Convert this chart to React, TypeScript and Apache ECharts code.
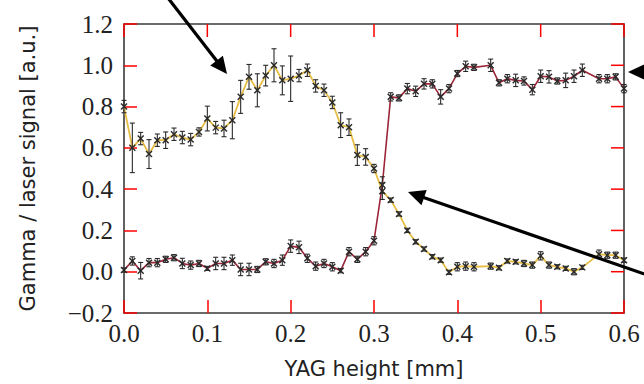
import React, { useEffect, useRef } from "react";
import * as echarts from "echarts";

// YAG height [mm]
const xValues = [
  0.0, 0.01, 0.02, 0.03, 0.04, 0.05, 0.06, 0.07, 0.08, 0.09,
  0.1, 0.11, 0.12, 0.13, 0.14, 0.15, 0.16, 0.17, 0.18, 0.19,
  0.2, 0.21, 0.22, 0.23, 0.24, 0.25, 0.26, 0.27, 0.28, 0.29,
  0.3, 0.31, 0.32, 0.33, 0.34, 0.35, 0.36, 0.37, 0.38, 0.39,
  0.4, 0.41, 0.42, 0.44, 0.45, 0.46, 0.47, 0.48, 0.49,
  0.5, 0.51, 0.52, 0.53, 0.54, 0.55, 0.57, 0.58, 0.59, 0.6,
];

// Gamma signal (yellow)
const gammaValues = [
  0.8, 0.6, 0.645, 0.57, 0.637, 0.637, 0.666, 0.65, 0.64, 0.677,
  0.742, 0.698, 0.694, 0.734, 0.847, 0.944, 0.879, 0.95, 1.0, 0.927,
  0.935, 0.95, 0.976, 0.9, 0.879, 0.82, 0.71, 0.7, 0.565, 0.556,
  0.5, 0.39, 0.347, 0.28, 0.2, 0.145, 0.11, 0.073, 0.056, -0.003,
  0.024, 0.027, 0.024, 0.027, 0.019, 0.052, 0.048, 0.04, 0.032,
  0.077, 0.032, 0.024, 0.016, 0.0, 0.021, 0.085, 0.08, 0.08, 0.056,
];
const gammaErrors = [
  0.03, 0.12, 0.03, 0.07, 0.03, 0.04, 0.03, 0.03, 0.03, 0.02,
  0.06, 0.03, 0.04, 0.09, 0.08, 0.06, 0.08, 0.05, 0.08, 0.07,
  0.11, 0.03, 0.03, 0.03, 0.03, 0.03, 0.06, 0.04, 0.05, 0.04,
  0.02, 0.04, 0.01, 0.01, 0.01, 0.01, 0.01, 0.01, 0.01, 0.01,
  0.02, 0.02, 0.02, 0.015, 0.01, 0.01, 0.01, 0.015, 0.015,
  0.02, 0.015, 0.01, 0.01, 0.015, 0.01, 0.02, 0.015, 0.015, 0.01,
];

// Laser signal (red)
const laserValues = [
  0.008, 0.052, 0.005, 0.044, 0.044, 0.06, 0.068, 0.04, 0.032, 0.04,
  0.016, 0.04, 0.04, 0.056, 0.011, 0.011, 0.011, 0.048, 0.04, 0.056,
  0.124, 0.118, 0.065, 0.027, 0.04, 0.024, 0.005, 0.097, 0.06, 0.097,
  0.15, 0.42, 0.847, 0.842, 0.887, 0.874, 0.91, 0.91, 0.847, 0.887,
  0.96, 0.995, 0.99, 1.0, 0.915, 0.935, 0.927, 0.924, 0.882,
  0.947, 0.944, 0.924, 0.927, 0.947, 0.976, 0.935, 0.935, 0.944, 0.887,
];
const laserErrors = [
  0.01, 0.02, 0.04, 0.02, 0.02, 0.015, 0.015, 0.025, 0.02, 0.015,
  0.01, 0.03, 0.03, 0.025, 0.03, 0.03, 0.015, 0.015, 0.02, 0.025,
  0.03, 0.03, 0.02, 0.02, 0.02, 0.02, 0.01, 0.02, 0.015, 0.02,
  0.02, 0.04, 0.02, 0.015, 0.025, 0.025, 0.025, 0.02, 0.035, 0.02,
  0.015, 0.025, 0.015, 0.03, 0.015, 0.02, 0.03, 0.02, 0.025,
  0.03, 0.03, 0.015, 0.035, 0.03, 0.03, 0.02, 0.02, 0.015, 0.02,
];

// Tick positions
const xTickValues = [0.0, 0.1, 0.2, 0.3, 0.4, 0.5, 0.6];
const yTickValues = [-0.2, 0.0, 0.2, 0.4, 0.6, 0.8, 1.0, 1.2];

const X_MIN = 0;
const X_MAX = 0.6;
const Y_MIN = -0.2;
const Y_MAX = 1.2;

const GAMMA_COLOR = "#E6BD45";
const LASER_COLOR = "#9C2639";
const MARK_COLOR = "#2a2a2a";
const FRAME_COLOR = "#3a3a3a";
const TICK_COLOR = "#ff0000";
const TICK_LEN = 13;

function arrow(x1: number, y1: number, x2: number, y2: number) {
  const dx = x2 - x1;
  const dy = y2 - y1;
  const len = Math.sqrt(dx * dx + dy * dy);
  const ux = dx / len;
  const uy = dy / len;
  const headLen = 17;
  const headW = 8;
  const bx = x2 - ux * headLen;
  const by = y2 - uy * headLen;
  return [
    {
      type: "line",
      shape: { x1, y1, x2: bx + ux * 2, y2: by + uy * 2 },
      style: { stroke: "#000", lineWidth: 3.2 },
      z: 100,
    },
    {
      type: "polygon",
      shape: {
        points: [
          [x2, y2],
          [bx - uy * headW, by + ux * headW],
          [bx + uy * headW, by - ux * headW],
        ],
      },
      style: { fill: "#000" },
      z: 100,
    },
  ];
}

function errorSeries(values: number[], errors: number[]) {
  return {
    type: "custom",
    xAxisIndex: 0,
    yAxisIndex: 0,
    z: 5,
    encode: { x: 0, y: 1 },
    data: xValues.map((x, i) => [x, values[i], errors[i]]),
    renderItem: (_params: any, api: any) => {
      const x = api.value(0);
      const y = api.value(1);
      const e = api.value(2);
      const c = api.coord([x, y]);
      const t = api.coord([x, y + e]);
      const b = api.coord([x, y - e]);
      const cap = 2.5;
      const m = 3;
      const st = { stroke: MARK_COLOR, lineWidth: 1.1 };
      return {
        type: "group",
        children: [
          { type: "line", shape: { x1: t[0], y1: t[1], x2: b[0], y2: b[1] }, style: st },
          { type: "line", shape: { x1: t[0] - cap, y1: t[1], x2: t[0] + cap, y2: t[1] }, style: st },
          { type: "line", shape: { x1: b[0] - cap, y1: b[1], x2: b[0] + cap, y2: b[1] }, style: st },
          { type: "line", shape: { x1: c[0] - m, y1: c[1] - m, x2: c[0] + m, y2: c[1] + m }, style: { stroke: MARK_COLOR, lineWidth: 1.4 } },
          { type: "line", shape: { x1: c[0] - m, y1: c[1] + m, x2: c[0] + m, y2: c[1] - m }, style: { stroke: MARK_COLOR, lineWidth: 1.4 } },
        ],
      };
    },
  };
}

// Inward ticks on the top and right sides, placed through the axes' scales
function mirrorTickSeries() {
  return {
    type: "custom",
    xAxisIndex: 0,
    yAxisIndex: 0,
    z: 10,
    clip: false,
    encode: { x: 0, y: 1 },
    data: [
      ...xTickValues.map((v) => [v, Y_MIN, 0]),
      ...yTickValues.map((v) => [X_MIN, v, 1]),
    ],
    renderItem: (_params: any, api: any) => {
      const st = { stroke: TICK_COLOR, lineWidth: 1.5 };
      if (api.value(2) === 0) {
        const t = api.coord([api.value(0), Y_MAX]);
        return { type: "line", shape: { x1: t[0], y1: t[1], x2: t[0], y2: t[1] + TICK_LEN }, style: st };
      }
      const r = api.coord([X_MAX, api.value(1)]);
      return { type: "line", shape: { x1: r[0], y1: r[1], x2: r[0] - TICK_LEN, y2: r[1] }, style: st };
    },
  };
}

const mkLine = () => ({ show: true, onZero: false, lineStyle: { color: FRAME_COLOR, width: 1.6 } });
const mkTick = () => ({ show: true, inside: true, length: TICK_LEN, lineStyle: { color: TICK_COLOR, width: 1.5 } });

export default function App() {
  const ref = useRef<HTMLDivElement>(null);

  useEffect(() => {
    if (!ref.current) return;
    const chart = echarts.init(ref.current, null, { renderer: "svg" });
    const fmt = (v: number) => v.toFixed(1).replace("-", "\u2212");
    const labelStyle = { fontFamily: "Liberation Serif", fontSize: 25, color: "#222" };

    chart.setOption({
      animation: false,
      grid: { left: 124, right: 20, top: 24, bottom: 71 },
      xAxis: [
        {
          type: "value",
          position: "bottom",
          min: X_MIN,
          max: X_MAX,
          interval: 0.1,
          axisLine: mkLine(),
          axisTick: mkTick(),
          splitLine: { show: false },
          axisLabel: { ...labelStyle, margin: 8, formatter: fmt },
          name: "YAG height [mm]",
          nameLocation: "middle",
          nameGap: 45,
          nameTextStyle: { fontFamily: "DejaVu Sans", fontSize: 21, color: "#222" },
        },
        {
          type: "value",
          position: "top",
          min: X_MIN,
          max: X_MAX,
          interval: 0.1,
          axisLine: mkLine(),
          axisTick: { show: false },
          splitLine: { show: false },
          axisLabel: { show: false },
        },
      ],
      yAxis: [
        {
          type: "value",
          position: "left",
          min: Y_MIN,
          max: Y_MAX,
          interval: 0.2,
          axisLine: mkLine(),
          axisTick: mkTick(),
          splitLine: { show: false },
          axisLabel: { ...labelStyle, margin: 11, formatter: fmt },
          name: "Gamma / laser signal [a.u.]",
          nameLocation: "middle",
          nameGap: 86,
          nameRotate: 90,
          nameTextStyle: { fontFamily: "DejaVu Sans", fontSize: 21, color: "#222" },
        },
        {
          type: "value",
          position: "right",
          min: Y_MIN,
          max: Y_MAX,
          interval: 0.2,
          axisLine: mkLine(),
          axisTick: { show: false },
          splitLine: { show: false },
          axisLabel: { show: false },
        },
      ],
      series: [
        mirrorTickSeries(),
        {
          type: "line",
          name: "Gamma",
          xAxisIndex: 0,
          yAxisIndex: 0,
          data: xValues.map((x, i) => [x, gammaValues[i]]),
          showSymbol: false,
          lineStyle: { color: GAMMA_COLOR, width: 1.8 },
          z: 2,
        },
        {
          type: "line",
          name: "Laser",
          xAxisIndex: 0,
          yAxisIndex: 0,
          data: xValues.map((x, i) => [x, laserValues[i]]),
          showSymbol: false,
          lineStyle: { color: LASER_COLOR, width: 1.6 },
          z: 3,
        },
        errorSeries(gammaValues, gammaErrors),
        errorSeries(laserValues, laserErrors),
      ],
      graphic: [
        ...arrow(168, -2, 227, 74),
        ...arrow(660, 72, 628, 72),
        ...arrow(650, 276, 408, 192),
      ],
    });
    return () => chart.dispose();
  }, []);

  return (
    <div
      ref={ref}
      style={{ position: "fixed", left: 0, top: 0, width: 644, height: 384, background: "#fff" }}
    />
  );
}
